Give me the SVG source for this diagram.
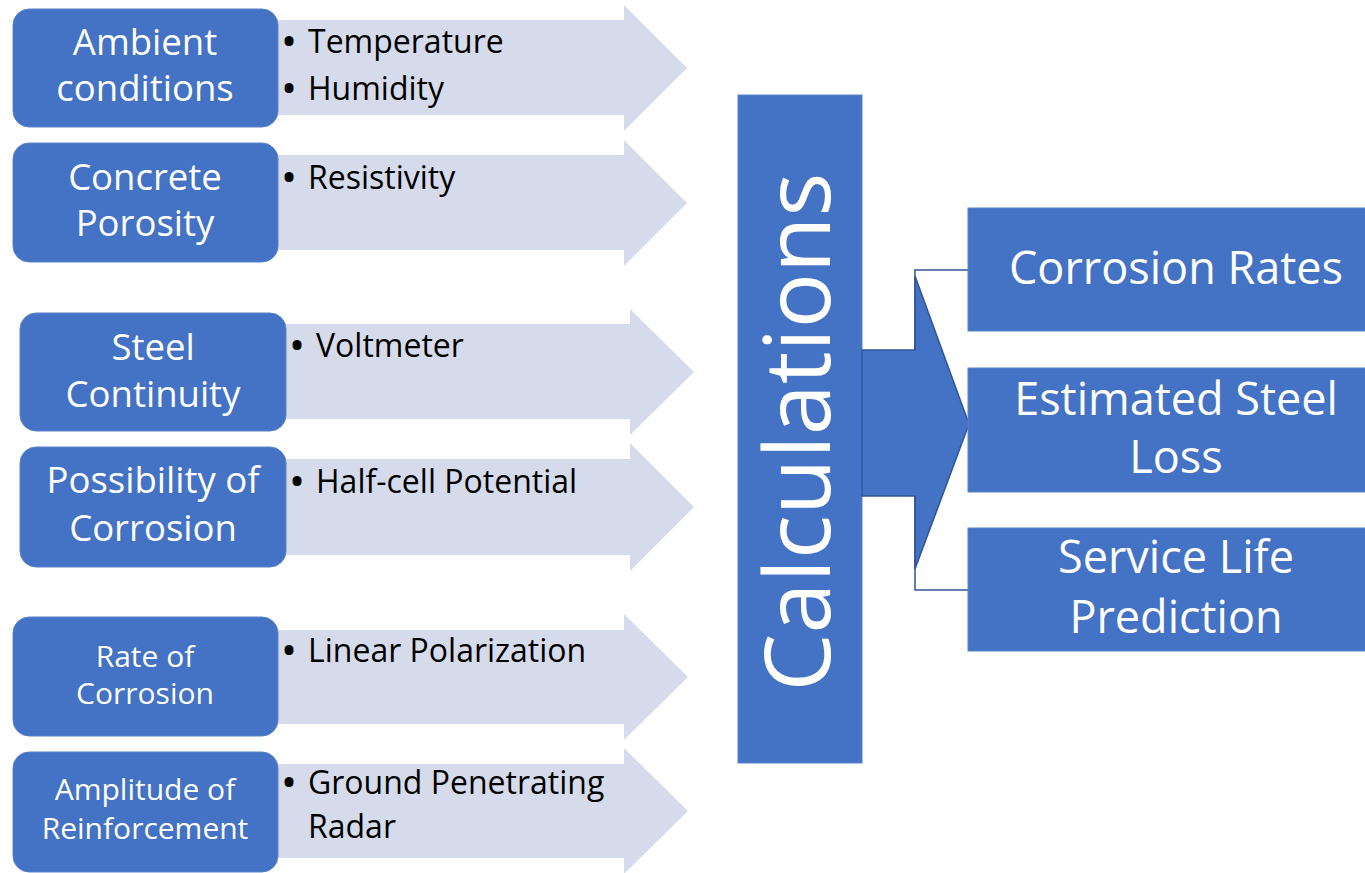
<svg xmlns="http://www.w3.org/2000/svg" width="1365" height="873" viewBox="0 0 1365 873">
  <style>
    .box { fill: #4472C4; stroke: #5b83cc; stroke-width: 1; }
    .band { fill: #D5DBEA; }
    .lbl { font-family: "Open Sans", "Noto Sans", sans-serif; fill: #ffffff; text-anchor: middle; }
    .big { font-size: 36.5px; }
    .small { font-size: 30px; }
    .item { font-family: "Open Sans", "Noto Sans", sans-serif; font-size: 32px; fill: #000000; }
    .dot { font-weight: 700; }
    .out { font-family: "Open Sans", "Noto Sans", sans-serif; font-size: 45px; fill: #ffffff; text-anchor: middle; }
    .link { fill: none; stroke: #2F5597; stroke-width: 1.5; }
  </style>
  <rect width="1365" height="873" fill="#ffffff"/>

  <!-- input categories: light arrow band with a rounded label box on top -->
  <g id="ambient">
    <path class="band" d="M270 20 H624 V5 L687 68 L624 131 V115 H270 Z"/>
    <rect class="box" x="13" y="9" width="265" height="118" rx="16"/>
    <text class="lbl big" x="145" y="55">Ambient</text>
    <text class="lbl big" x="145" y="101">conditions</text>
    <text class="item" y="53"><tspan class="dot" x="283">•</tspan><tspan x="308">Temperature</tspan></text>
    <text class="item" y="100"><tspan class="dot" x="283">•</tspan><tspan x="308">Humidity</tspan></text>
  </g>

  <g id="porosity">
    <path class="band" d="M270 155 H624 V140 L687 203 L624 266 V250 H270 Z"/>
    <rect class="box" x="13" y="143" width="265" height="119" rx="16"/>
    <text class="lbl big" x="145" y="190">Concrete</text>
    <text class="lbl big" x="145" y="236">Porosity</text>
    <text class="item" y="189"><tspan class="dot" x="283">•</tspan><tspan x="308">Resistivity</tspan></text>
  </g>

  <g id="continuity">
    <path class="band" d="M278 324 H630 V309 L694 372 L630 435 V419 H278 Z"/>
    <rect class="box" x="20" y="313" width="266" height="118" rx="16"/>
    <text class="lbl big" x="153" y="360">Steel</text>
    <text class="lbl big" x="153" y="407">Continuity</text>
    <text class="item" y="357"><tspan class="dot" x="291">•</tspan><tspan x="316">Voltmeter</tspan></text>
  </g>

  <g id="possibility">
    <path class="band" d="M278 459 H630 V443 L694 507 L630 571 V555 H278 Z"/>
    <rect class="box" x="20" y="447" width="266" height="120" rx="16"/>
    <text class="lbl big" x="153" y="493">Possibility of</text>
    <text class="lbl big" x="153" y="541">Corrosion</text>
    <text class="item" y="493"><tspan class="dot" x="291">•</tspan><tspan x="316">Half-cell Potential</tspan></text>
  </g>

  <g id="rate">
    <path class="band" d="M270 630 H624 V614 L688 677 L624 740 V724 H270 Z"/>
    <rect class="box" x="13" y="617" width="265" height="119" rx="16"/>
    <text class="lbl small" x="145" y="667">Rate of</text>
    <text class="lbl small" x="145" y="704">Corrosion</text>
    <text class="item" y="662"><tspan class="dot" x="283">•</tspan><tspan x="308">Linear Polarization</tspan></text>
  </g>

  <g id="amplitude">
    <path class="band" d="M270 764 H624 V748 L688 811 L624 874 V858 H270 Z"/>
    <rect class="box" x="13" y="752" width="265" height="120" rx="16"/>
    <text class="lbl small" x="145" y="800">Amplitude of</text>
    <text class="lbl small" x="145" y="839">Reinforcement</text>
    <text class="item" y="794"><tspan class="dot" x="283">•</tspan><tspan x="308">Ground Penetrating</tspan></text>
    <text class="item" x="308" y="838">Radar</text>
  </g>

  <!-- central calculation stage -->
  <g id="calculations">
    <rect class="box" x="738" y="95" width="124" height="668" stroke="none"/>
    <text class="lbl" font-size="92" transform="translate(830 432) rotate(-90)">Calculations</text>
  </g>

  <!-- fan-out arrow and bracket lines -->
  <g id="connectors">
    <path d="M862 350 H915 V276 L969 424 L915 569 V496 H862 Z" fill="#4472C4" stroke="#2F5597" stroke-width="1.5"/>
    <polyline class="link" points="968,270 915,270 915,350"/>
    <polyline class="link" points="915,496 915,590 968,590"/>
  </g>

  <!-- results -->
  <g id="corrosion-rates">
    <rect class="box" x="968" y="208" width="400" height="123" stroke="none"/>
    <text class="out" x="1176" y="284">Corrosion Rates</text>
  </g>
  <g id="steel-loss">
    <rect class="box" x="968" y="368" width="400" height="124" stroke="none"/>
    <text class="out" x="1176" y="415">Estimated Steel</text>
    <text class="out" x="1176" y="473">Loss</text>
  </g>
  <g id="service-life">
    <rect class="box" x="968" y="528" width="400" height="123" stroke="none"/>
    <text class="out" x="1176" y="573">Service Life</text>
    <text class="out" x="1176" y="633">Prediction</text>
  </g>
</svg>
